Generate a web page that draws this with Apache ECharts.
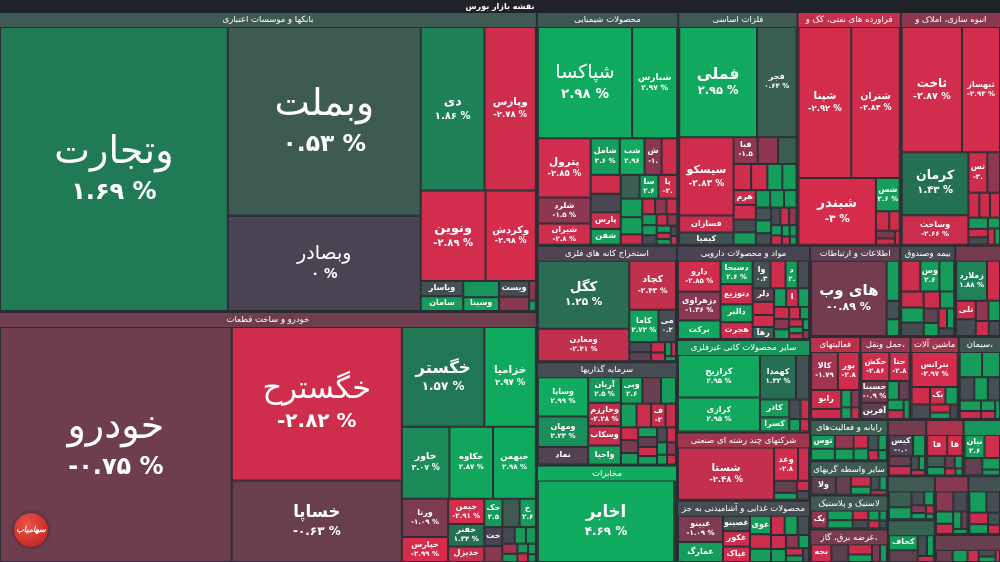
<!DOCTYPE html>
<html><head><meta charset="utf-8">
<script src="https://cdn.jsdelivr.net/npm/echarts@6.0.0/dist/echarts.min.js"></script>
<style>html,body{margin:0;padding:0;background:#2a2d34;}#c{width:1000px;height:562px;}</style>
</head><body><div id="c"></div>
<script>
// ---------- DATA ----------
const groupNames = ['بانکها و موسسات اعتباری','خودرو و ساخت قطعات','محصولات شیمیایی','فلزات اساسی','فراورده های نفتی، کک و','انبوه سازی، املاک و','استخراج کانه های فلزی','سرمایه گذاریها','مخابرات','مواد و محصولات دارویی','سایر محصولات کانی غیرفلزی','شرکتهای چند رشته ای صنعتی','محصولات غذایی و آشامیدنی به جز','اطلاعات و ارتباطات','بیمه وصندوق','','فعالیتهای','حمل ونقل،','ماشین آلات','سیمان،','رایانه و فعالیت‌های','سایر واسطه گریهای','لاستیک و پلاستیک','عرضه برق، گاز،','','','','','','','',''];
const groupValues = [160600,134250,32850,27730,24000,23300,16240,14420,13580,12500,12240,9040,8250,8190,5000,4160,4150,4140,3980,3490,3200,2650,2620,2600,2150,2100,2100,2050,2000,1950,1900,1850];
const groupChanges = [0.5,-0.75,0.4,0.5,-2.6,-1.4,-0.1,0.2,3,0,2.4,-1.8,0.2,-0.4,0.2,-0.9,-2.3,-1.6,-1.8,0.4,0.6,0.5,0.5,-1.0,-0.9,2.4,-2.0,0.5,0.8,-1.3,0.3,-0.6];

const leafNames = [
 ['وتجارت','وبملت','وبصادر','دی','وپارس','ونوین','وکردش','ویاسار','سامان','','وسینا','ویست','','',''],
 ['خودرو','خگسترح','خساپا','خگستر','خزامیا','خاور','خکاوه','خبهمن','ورنا','خپارس','خیمن','خفنر','خدیزل','خکار','','ختور','ختراک','','','','','','','','','',''],
 ['شپاکسا','شبارس','پترول','شلرد','شیران','شاملاب','شبصیر','شگستر','','','','پارس','شفن','پارسان','ساینا','','','','','','','','','','','','','','','','',''],
 ['فملی','فجر','سیسکو','فسازان','کیمیا','فباهنر','','','','','','','','هرمز','','','','','','','','','','','','','','','','',''],
 ['شپنا','شتران','شبندر','شسپا','','','','',''],
 ['ثاخت','ثبهساز','کرمان','وساخت','ثسکن','','','','','','','','','',''],
 ['کگل','ومعادن','کچاد','کاما','میکو','','','','','','',''],
 ['وساپا','ومهان','نماد','آریان','وخارزم','وسکاب','واحیا','وبیمه','','','','','فیروزه','','','','','','','','','','','','','',''],
 ['اخابر',''],
 ['دارو','دزهراوی','برکت','دسبحا','دتوزیع','دالبر','هجرت','والبر','','دلترا','','دلر','','رهآور','','القضی','','','','','','','','','','','',''],
 ['کرازیج','کرازی','کهمدا','','کاذر','کسرا','','','',''],
 ['شستا','وغدیر','','','','',''],
 ['غبینو','غمارگ','غپاک','غکورش','غصینو','غویتا','','','','','','','','','','','',''],
 ['های وب','','',''],
 ['وسین','','','','','','','','','','','',''],
 ['زملارد','','تلیسه','','','','',''],
 ['کالا','بورس','رابورس','انرژی','','','',''],
 ['حکشتی','حتاید','حسینا','آفرین','','','','',''],
 ['بترانس','','بکام','','','','',''],
 ['','','','','','','','','',''],
 ['توسن','فن','','','','','','','',''],
 ['ولاعتماد','','لساپا','','','',''],
 ['پکویر','','','','','','','',''],
 ['بجهرم','','','','',''],
 ['کیسون','','رمپنا','','','',''],
 ['نیان','','','',''],
 ['قاسم','قاری','','','','','',''],
 ['','','','','','','',''],
 ['کحافظ','','','',''],
 ['','','','','','',''],
 ['','','','','',''],
 ['','','','','','']
];
const leafValues = [
 [64000,36000,18200,10300,8300,5800,4500,650,620,580,490,470,430,130,70],
 [53000,25400,13500,8000,5000,3330,3060,3000,1720,1130,890,790,550,500,475,450,330,280,200,180,160,150,120,100,90,80,60],
 [9400,4500,2800,1230,1000,950,810,560,510,510,500,450,420,400,400,400,360,330,200,180,160,150,140,130,120,110,100,90,80,70,60,50],
 [7850,3980,3900,850,600,590,450,420,390,500,360,340,300,300,260,230,200,180,250,220,180,160,150,140,120,100,90,80,70,60,50],
 [7400,6800,4800,740,240,190,140,110,60],
 [6900,4360,3840,1800,700,470,250,240,230,200,150,130,120,100,80],
 [5700,2720,2100,870,520,200,180,130,110,80,60,50],
 [1600,1240,720,675,620,510,500,460,400,320,300,280,275,200,180,180,160,150,150,140,130,120,110,100,90,80,70],
 [11400,150],
 [1180,1090,700,670,580,510,480,440,370,300,280,260,250,230,230,200,200,180,160,140,130,120,100,90,80,70,60,50],
 [3120,2500,1440,520,470,370,200,150,120,100],
 [4780,760,350,260,150,120,100],
 [850,650,300,300,300,280,220,200,190,180,160,150,140,120,100,90,80,60],
 [5400,480,220,200],
 [490,490,380,300,280,250,230,200,180,160,140,120,100],
 [950,400,280,250,200,180,150,130],
 [875,700,490,260,150,120,100,80],
 [575,415,400,300,150,140,120,100,80],
 [1500,300,250,250,200,150,120,100],
 [500,400,300,280,250,200,150,130,100,80],
 [380,320,300,250,230,200,180,150,120,100],
 [660,400,300,230,180,150,100],
 [400,330,280,200,180,150,120,100,80],
 [300,250,200,150,120,100],
 [700,350,280,300,150,120,100],
 [900,700,600,400,200],
 [850,650,400,300,250,200,150,100],
 [800,600,400,300,250,200,150,100],
 [450,350,200,150,100],
 [500,400,300,250,200,150,100],
 [500,400,300,250,200,150],
 [450,400,300,250,200,120]
];
const leafChanges = [
 [1.69,0.53,0,1.86,-2.78,-2.89,-2.98,0.3,2.6,2.4,2.7,0.2,-1.3,-1.5,2.5],
 [-0.75,-2.82,-0.63,1.57,2.97,2.07,2.87,2.98,-1.09,-2.99,-2.91,1.34,-2.5,2.5,0.5,2.6,0,-1.4,0.1,2.6,2.5,-1.8,2.5,2.4,-2.7,2.6,2.4],
 [2.98,2.97,-2.85,-1.5,-2.8,2.6,2.96,-1.4,-2.8,-2.8,0.1,-2.7,2.6,-2.7,2.6,0.6,2.6,2.6,-2.7,-2.6,-1.4,-2.7,2.5,2.6,0.2,-2.7,-1.4,2.6,-2.5,2.6,0.1,-2.6],
 [2.95,0.64,-2.83,-2.7,0.3,-1.5,0.6,-2.8,-2.8,-1.5,2.6,2.6,-2.8,-2.7,0.2,2.5,2.6,2.6,2.6,2.6,0.3,0.2,0.1,-2.7,-1.5,2.6,-2.7,2.6,2.5,-2.6,2.6],
 [-2.92,-2.84,-3,2.6,-2.8,-2.8,-0.8,-2.8,-2.8],
 [-2.87,-2.93,1.43,-2.66,-2.8,-1.5,-2.8,-2.7,-2.8,2.5,-2.8,0.2,2.6,-2.8,2.6],
 [1.25,-2.41,-2.43,2.72,0.2,0.1,-0.3,-2.7,-2.8,2.6,-2.7,2.5],
 [2.99,2.23,-0.2,2.5,-2.28,-2.6,2.6,2.6,-0.6,2.6,2.6,-2.7,-2.7,-2.7,-1.0,-2.7,2.6,-0.5,2.6,-2.7,2.5,0.2,-2.6,2.6,-1.3,2.6,-2.7],
 [4.69,-0.3],
 [-2.85,-1.36,2.89,2.6,-2.7,2.6,-2.7,0.3,-2.8,2.6,0.2,-0.3,-2.8,0.6,-2.8,-2.7,2.6,2.6,-2.7,-1.4,2.6,-2.7,2.5,-2.6,2.6,-2.7,2.6,-1.3],
 [2.95,2.95,1.32,0.3,2.6,2.6,0.2,-2.7,2.6,-2.7],
 [-2.48,-2.88,-2.7,-0.5,2.6,-2.7,0.2],
 [-1.09,2.6,-2.8,-2.7,0.3,2.6,-2.7,2.6,-2.8,2.6,0.2,-2.7,2.6,-1.4,2.6,-2.7,2.5,0.1],
 [-0.89,2.6,0.3,2.6],
 [2.6,-2.8,2.6,-2.7,2.6,0.2,-2.8,2.6,-0.5,2.6,-2.7,2.5,0.2],
 [1.88,-2.8,-2.7,0.2,-1.5,2.6,-2.7,0.2],
 [-1.79,-2.8,-2.7,-2.7,2.6,-1.3,2.6,-2.7],
 [-2.86,-2.8,-0.9,-0.4,2.6,-0.5,2.6,-2.7,2.5],
 [-2.97,-2.8,-2.7,0.2,2.6,-2.7,2.6,0.1],
 [2.6,2.6,0.2,2.6,0.3,2.6,-2.7,2.6,-2.7,2.5],
 [2.6,2.6,-1.5,2.6,-2.7,2.6,0.3,2.6,-2.7,2.5],
 [-0.3,-0.6,-2.7,2.6,0.2,2.6,-2.7],
 [-1.5,2.6,2.6,-2.7,0.2,2.6,-2.8,2.5,0.2],
 [-2.7,-0.3,-2.7,2.6,-1.0,2.6],
 [-0.07,2.6,-2.7,-0.6,0.2,2.6,-2.7],
 [2.6,-2.8,-0.5,2.6,2.5],
 [-2.8,-2.8,0.5,2.6,-0.5,2.6,-2.7,2.6],
 [0.6,2.6,0.2,2.6,-1.3,2.6,-2.7,2.6],
 [2.6,-0.5,0.2,2.6,-2.7],
 [-1.3,0.1,2.6,-2.7,2.6,-0.5,2.6],
 [2.6,0.2,-2.7,2.6,0.3,-2.7],
 [-0.6,2.6,-2.8,0.2,2.6,-2.7]
];
const titleText = 'نقشه بازار بورس';

// ---------- STYLE ----------
const GAP = '#2a2d34';
const FONT = '"DejaVu Sans", sans-serif';
const STOPS = [[-3,[214,44,76]],[-2.4,[192,48,76]],[-1.4,[138,56,80]],[-0.7,[108,62,78]],[0,[74,68,82]],[0.5,[62,90,82]],[1.5,[34,115,82]],[2,[30,135,90]],[3,[16,171,94]]];
function colorOf(c){
  c = Math.max(-3, Math.min(3, c));
  for (let i = 0; i < STOPS.length - 1; i++) {
    const a = STOPS[i], b = STOPS[i+1];
    if (c <= b[0]) {
      const t = (c - a[0]) / (b[0] - a[0]);
      const r = a[1].map((v, k) => Math.round(v + (b[1][k] - v) * t));
      return 'rgb(' + r.join(',') + ')';
    }
  }
  return 'rgb(16,171,94)';
}
const FA = '۰۱۲۳۴۵۶۷۸۹';
function toFa(s){ return s.replace(/[0-9]/g, d => FA[+d]); }
function pctText(v){ return toFa(String(v)) + ' %'; }

function buildData(fonts){
  return groupNames.map((g, gi) => ({
    name: g, id: 'g' + gi, value: groupValues[gi],
    itemStyle: { borderColor: colorOf(groupChanges[gi]) },
    children: leafNames[gi].map((n, li) => {
      const id = 'g' + gi + '_' + li;
      const item = { name: n, id: id, value: leafValues[gi][li], chg: leafChanges[gi][li],
        itemStyle: { color: colorOf(leafChanges[gi][li]) } };
      const f = fonts && fonts[id];
      if (f) {
        item.label = { padding: [f.pad, 0, 0, 0], rich: {
          n: { fontSize: f.nf, lineHeight: f.nLH, fontWeight: f.nf < 18 ? 'bold' : 'normal', color: '#fff', fontFamily: FONT },
          p: { fontSize: f.pf, lineHeight: f.pLH, fontWeight: 'bold', color: '#fff', fontFamily: FONT }
        } };
      }
      return item;
    })
  }));
}

const chart = echarts.init(document.getElementById('c'), null, { renderer: 'canvas' });
function makeOption(fonts){
  return {
    backgroundColor: GAP,
    animation: false,
    graphic: [
      { type: 'rect', left: 0, top: 0, shape: { width: 1000, height: 13 }, style: { fill: '#1f2228' }, z: 10 },
      { type: 'text', x: 500, y: 6.5, style: { text: titleText, fill: '#fff', font: 'bold 8px ' + FONT, align: 'center', verticalAlign: 'middle' }, z: 11 },
      { type: 'circle', shape: { cx: 31, cy: 530, r: 17 }, style: { fill: new echarts.graphic.RadialGradient(0.4, 0.35, 0.8, [{offset:0,color:'#f0534a'},{offset:1,color:'#b8231d'}]), shadowBlur: 4, shadowColor: 'rgba(0,0,0,0.5)' }, z: 20 },
      { type: 'text', x: 31, y: 530, style: { text: 'سهامیاب', fill: '#fff', font: 'italic bold 8px ' + FONT, align: 'center', verticalAlign: 'middle' }, z: 21 }
    ],
    series: [{
      type: 'treemap',
      left: 0, right: 0, top: 13, bottom: 0,
      roam: false, nodeClick: false,
      breadcrumb: { show: false },
      visibleMin: 1,
      sort: 'desc',
      label: { show: true, padding: 0, overflow: 'truncate', ellipsis: '', color: '#fff', fontFamily: FONT },
      upperLabel: { show: false },
      levels: [
        { itemStyle: { borderColor: GAP, borderWidth: 0, gapWidth: 2 } },
        { itemStyle: { borderWidth: 0, gapWidth: 0 },
          upperLabel: { show: true, height: 14, position: 'inside', formatter: '{b}', color: '#fff', fontSize: 8.5, fontWeight: 'normal', fontFamily: FONT, overflow: 'truncate', ellipsis: '', padding: 0 } },
        { itemStyle: { borderWidth: 1, borderColor: GAP },
          label: { show: true, position: 'inside', padding: 0, overflow: 'truncate', ellipsis: '',
            formatter: p => p.data && p.data.name ? '{n|' + p.data.name + '}\n{p|' + pctText(p.data.chg) + '}' : '',
            rich: { n: { fontSize: 9, fontWeight: 'bold', color: '#fff', fontFamily: FONT }, p: { fontSize: 8, fontWeight: 'bold', color: '#fff', fontFamily: FONT } } } }
      ],
      data: buildData(fonts)
    }]
  };
}
chart.setOption(makeOption(null));

// second pass: font size and vertical centring from each cell's laid-out size
try {
  const fonts = {};
  const sm = chart.getModel().getSeriesByIndex(0);
  const sdata = sm.getData();
  sdata.tree.root.eachNode(node => {
    if (node.children && node.children.length) return;
    const l = node.getLayout(); if (!l) return;
    let id = null;
    try { id = node.getId(); } catch (e) {}
    if (!id) { const raw = sdata.getRawDataItem(node.dataIndex); id = raw && raw.id; }
    if (!id) return;
    const name = node.name || '';
    if (!name) return;
    const w = l.width, h = l.height;
    let nf = Math.min(w, h) * 0.2;
    nf = Math.min(nf, (w - 4) / (Math.max(name.length, 2) * 0.5));
    nf = Math.max(8, Math.min(38, nf));
    let pf = Math.max(7, Math.min(nf * 0.82, 9 + (nf - 11) * 0.55, (w - 4) / 3.6));
    nf = Math.round(nf * 2) / 2; pf = Math.round(pf * 2) / 2;
    const nLH = Math.round(nf * 1.25), pLH = Math.round(pf * 1.3);
    const hh = h - 2;
    let cH = 0;
    if (hh >= nLH + pLH) cH = nLH + pLH; else if (hh >= nLH) cH = nLH;
    const pad = Math.max(0, Math.floor((hh - cH) / 2));
    fonts[id] = { nf, pf, nLH, pLH, pad };
  });
  chart.setOption(makeOption(fonts), true);
} catch (e) { console.error(e); }
</script></body></html>
